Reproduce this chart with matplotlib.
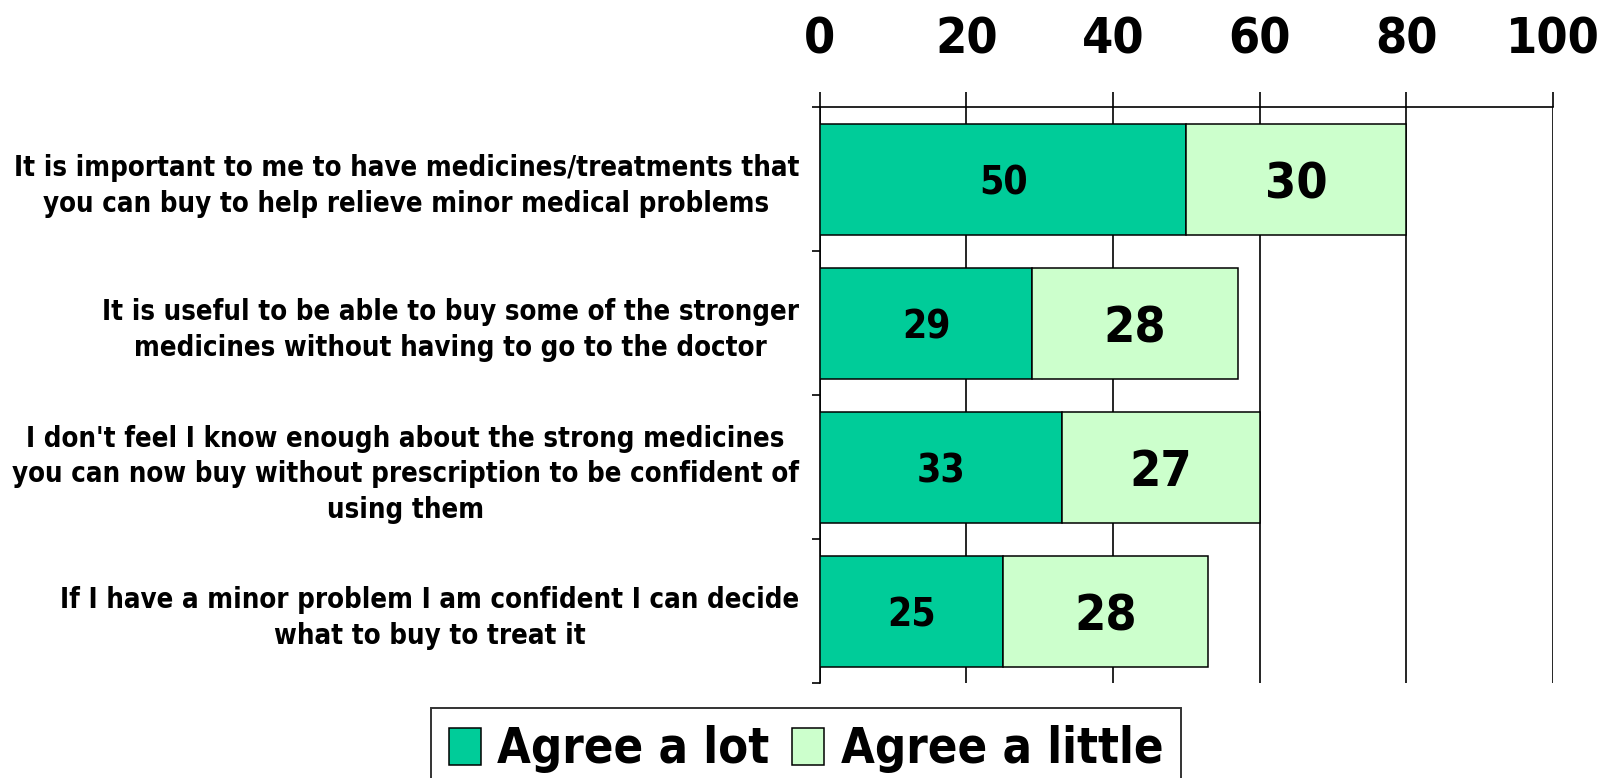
import matplotlib.pyplot as plt
import numpy as np

# survey statements, top to bottom
statements = [
    "It is important to me to have medicines/treatments that\nyou can buy to help relieve minor medical problems",
    "It is useful to be able to buy some of the stronger\nmedicines without having to go to the doctor",
    "I don't feel I know enough about the strong medicines\nyou can now buy without prescription to be confident of\nusing them",
    "If I have a minor problem I am confident I can decide\nwhat to buy to treat it",
]
agree_lot = [50, 29, 33, 25]
agree_little = [30, 28, 27, 28]
x_ticks = [0, 20, 40, 60, 80, 100]

DARK = "#00CC99"
LIGHT = "#CCFFCC"
FONT = dict(family="DejaVu Sans", fontweight="bold", fontstretch="condensed")


def main() -> None:
    fig = plt.figure(figsize=(16.14, 7.78), dpi=100)
    ax = fig.add_axes([0.508, 0.1215, 0.454, 0.741])

    y = np.arange(len(statements))
    lot = np.array(agree_lot)
    little = np.array(agree_little)

    b1 = ax.barh(y, lot, height=0.77, color=DARK, edgecolor="black", linewidth=1.1,
                 label="Agree a lot", zorder=3)
    b2 = ax.barh(y, little, left=lot, height=0.77, color=LIGHT, edgecolor="black",
                 linewidth=1.1, label="Agree a little", zorder=3)

    # value labels centred in each segment
    for yi, a, b in zip(y, lot, little):
        ax.text(a / 2, yi, str(a), ha="center", va="center_baseline", fontsize=28,
                zorder=4, **FONT)
        ax.text(a + b / 2, yi, str(b), ha="center", va="center_baseline", fontsize=36,
                zorder=4, **FONT)

    ax.set_xlim(0, 100)
    ax.set_ylim(len(statements) - 0.5, -0.5)

    # value axis on top
    ax.xaxis.tick_top()
    ax.set_xticks(x_ticks)
    ax.set_xticklabels([str(t) for t in x_ticks], fontsize=36, **FONT)
    ax.tick_params(axis="x", direction="out", length=11, width=1.2, pad=20.5, color="black")
    ax.grid(axis="x", color="black", linewidth=1.2, zorder=0)

    # category ticks sit on boundaries, labels in between
    ax.set_yticks(np.arange(len(statements) + 1) - 0.5)
    ax.set_yticklabels([])
    ax.set_yticks(y, minor=True)
    ax.set_yticklabels(statements, minor=True, fontsize=19.85, multialignment="center",
                       linespacing=1.34, **FONT)
    ax.tick_params(axis="y", which="major", direction="out", length=6, width=1.2)
    ax.tick_params(axis="y", which="minor", length=0, pad=15)

    for side in ["right", "bottom"]:
        ax.spines[side].set_visible(False)
    for side in ["left", "top"]:
        ax.spines[side].set_linewidth(1.2)

    leg = fig.legend(handles=[b1, b2], loc="upper center", bbox_to_anchor=(0.4994, 0.09),
                     ncol=2, frameon=True, fancybox=False, edgecolor="black",
                     prop=dict(size=35, weight="bold", stretch="condensed", family="DejaVu Sans"),
                     handlelength=0.66, handleheight=0.8, handletextpad=0.34,
                     columnspacing=0.47, borderpad=0.36, borderaxespad=0)
    leg.get_frame().set_linewidth(1.4)

    fig.savefig("out.png", dpi=100)
    plt.close(fig)


if __name__ == "__main__":
    main()
